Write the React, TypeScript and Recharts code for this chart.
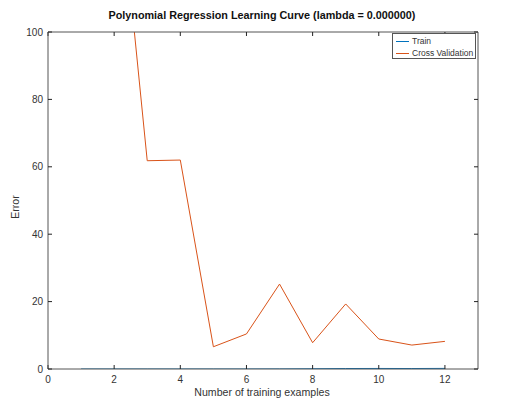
import React from 'react';
import { LineChart, Line, XAxis, YAxis } from 'recharts';

const trainingExamples = [1, 2, 3, 4, 5, 6, 7, 8, 9, 10, 11, 12];
const trainError = [0.0, 0.0, 0.0, 0.0, 0.0, 0.0, 0.02, 0.07, 0.14, 0.16, 0.14, 0.18];
const cvError = [160.7, 160.1, 61.8, 62.0, 6.6, 10.4, 25.2, 7.8, 19.3, 8.9, 7.1, 8.2];
const xTicks = [0, 2, 4, 6, 8, 10, 12];
const yTicks = [0, 20, 40, 60, 80, 100];

const data = trainingExamples.map((m, i) => ({ m, train: trainError[i], cv: cvError[i] }));

const FONT = '"Liberation Sans", Arial, Helvetica, sans-serif';
const AXIS = '#555';
const TXT = '#333';
const BLUE = '#0072BD';
const ORANGE = '#D95319';

export default function App() {
  return (
    <div style={{ position: 'absolute', left: 0, top: 0, width: 528, height: 409, background: '#fff', fontFamily: FONT }}>
      <LineChart width={528} height={409} data={data} margin={{ top: 31, right: 49, bottom: 10, left: 8 }}>
        <XAxis
          dataKey="m"
          type="number"
          domain={[0, 13]}
          ticks={xTicks}
          allowDataOverflow
          height={30}
          tickSize={-4}
          tickMargin={11}
          stroke={AXIS}
          tick={{ fill: TXT, fontSize: 10, fontFamily: FONT }}
          tickLine={{ stroke: '#222' }}
        />
        <XAxis
          xAxisId="top"
          orientation="top"
          dataKey="m"
          type="number"
          domain={[0, 13]}
          ticks={xTicks}
          allowDataOverflow
          height={1}
          tickSize={-4}
          tickFormatter={() => ''}
          stroke={AXIS}
          tickLine={{ stroke: '#222' }}
        />
        <YAxis
          type="number"
          domain={[0, 100]}
          ticks={yTicks}
          allowDataOverflow
          width={40}
          tickSize={-4}
          tickMargin={9}
          stroke={AXIS}
          tick={{ fill: TXT, fontSize: 10, fontFamily: FONT }}
          tickLine={{ stroke: '#222' }}
        />
        <YAxis
          yAxisId="right"
          orientation="right"
          type="number"
          domain={[0, 100]}
          ticks={yTicks}
          allowDataOverflow
          width={1}
          tickSize={-4}
          tickFormatter={() => ''}
          stroke={AXIS}
          tickLine={{ stroke: '#222' }}
        />
        <Line xAxisId="top" yAxisId="right" dataKey="cv" stroke="none" strokeOpacity={0} dot={false} activeDot={false} isAnimationActive={false} />
        <Line dataKey="train" stroke={BLUE} strokeWidth={1} dot={false} isAnimationActive={false} />
        <Line dataKey="cv" stroke={ORANGE} strokeWidth={1} dot={false} isAnimationActive={false} />
      </LineChart>

      <div style={{ position: 'absolute', left: 0, width: 528, top: 8, textAlign: 'center', fontSize: 10.8, fontWeight: 'bold', color: '#111', lineHeight: '14px' }}>
        <span style={{ position: 'relative', left: -2 }}>Polynomial Regression Learning Curve (lambda = 0.000000)</span>
      </div>
      <div style={{ position: 'absolute', left: 48, width: 430, top: 385, textAlign: 'center', fontSize: 10.6, color: TXT, lineHeight: '14px' }}>
        <span style={{ position: 'relative', left: -1 }}>Number of training examples</span>
      </div>
      <div style={{ position: 'absolute', left: 15, top: 207, width: 0, height: 0 }}>
        <div style={{ position: 'absolute', transform: 'translate(-50%, -50%) rotate(-90deg)', fontSize: 10.6, color: TXT, whiteSpace: 'nowrap', lineHeight: '12px' }}>Error</div>
      </div>

      <div style={{ position: 'absolute', left: 392, top: 33, width: 82, height: 24, border: '1px solid #555', background: '#fff', fontSize: 8.5, color: TXT, lineHeight: '12px' }}>
        <div style={{ display: 'flex', alignItems: 'center', height: 12, marginTop: 1 }}>
          <span style={{ display: 'inline-block', width: 13, height: 0, borderTop: `1px solid ${BLUE}`, marginLeft: 3, marginRight: 3 }} />
          <span>Train</span>
        </div>
        <div style={{ display: 'flex', alignItems: 'center', height: 12 }}>
          <span style={{ display: 'inline-block', width: 13, height: 0, borderTop: `1px solid ${ORANGE}`, marginLeft: 3, marginRight: 3 }} />
          <span>Cross Validation</span>
        </div>
      </div>
    </div>
  );
}
